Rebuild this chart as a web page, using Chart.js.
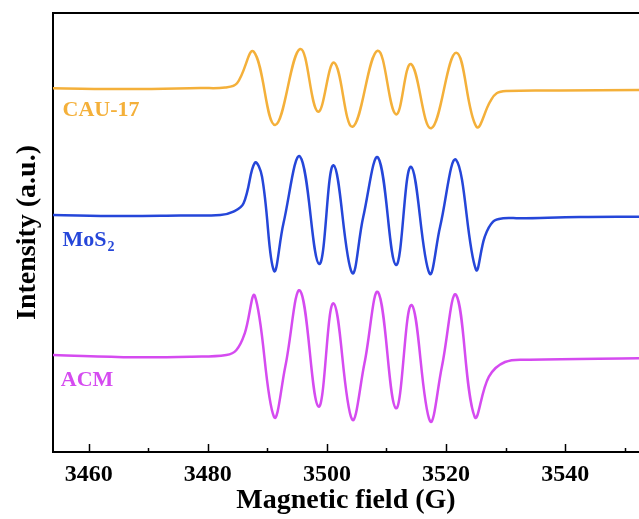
<!DOCTYPE html>
<html>
<head>
<meta charset="utf-8">
<script src="https://cdn.jsdelivr.net/npm/chart.js@4.4.1/dist/chart.umd.min.js"></script>
<style>
  html, body { margin: 0; padding: 0; background: #fff; }
  #wrap { width: 639px; height: 519px; }
</style>
</head>
<body>
<div id="wrap"><canvas id="myChart" width="639" height="519"></canvas></div>
<script>
// field values (G) and intensity (a.u., offset per sample)
const cauField = [3454.0, 3467.0, 3478.7, 3482.9, 3484.9, 3487.7, 3491.3, 3495.5, 3498.5, 3501.2, 3504.3, 3508.5, 3511.6, 3514.1, 3517.5, 3521.7, 3525.1, 3527.4, 3528.5, 3530.2, 3539.1, 3552.4];
const cauIntensity = [363.7, 363, 364, 364.5, 368.7, 400.3, 327, 403, 340.3, 389.3, 325.3, 401.3, 337.7, 388, 323.7, 399.3, 325.3, 350.3, 358.7, 361, 361.5, 362];

const mosField = [3454.0, 3465.3, 3475.4, 3482.1, 3484.3, 3486.0, 3487.9, 3489.1, 3491.1, 3492.7, 3495.5, 3498.7, 3501.1, 3504.2, 3506.1, 3508.6, 3511.6, 3514.1, 3517.2, 3519.0, 3521.7, 3525.0, 3526.5, 3527.9, 3529.6, 3532.4, 3542.5, 3552.4];
const mosIntensity = [237, 236, 236.5, 237, 240.3, 248.7, 289.3, 275.3, 181.3, 228.7, 295.3, 188, 286.7, 179.3, 235.3, 294.3, 187, 285.3, 178.7, 225.3, 292, 182.7, 215.3, 230.3, 233.7, 233.7, 235, 235.3];

const acmField = [3454.0, 3467.7, 3477.3, 3483.1, 3484.8, 3486.2, 3487.9, 3491.1, 3493.0, 3495.5, 3498.6, 3501.1, 3504.2, 3506.3, 3508.6, 3511.6, 3514.2, 3517.3, 3519.3, 3521.7, 3524.8, 3527.2, 3529.9, 3534.0, 3552.4];
const acmIntensity = [97, 94.7, 95.3, 97, 102, 118.7, 156, 35.3, 85.3, 161.3, 45.3, 148.7, 32.7, 88.7, 159.7, 43.7, 147, 31, 85.3, 157, 35.3, 75.3, 90, 92.3, 93.7];

const majorTicks = [3460, 3480, 3500, 3520, 3540];
const minorTicks = [3470, 3490, 3510, 3530, 3550];

// sample name labels: [text, subscript, field, intensity, colour]
const sampleLabels = [
  ["CAU-17", "", 3455.6, 342, "#F4B03A"],
  ["MoS", "2", 3455.6, 212, "#2546D9"],
  ["ACM", "", 3455.3, 72, "#D54BF0"]
];

const serif = "'Liberation Serif', 'Times New Roman', serif";

function toPoints(xs, ys) {
  return xs.map((v, i) => ({ x: v, y: ys[i] }));
}

const framePlugin = {
  id: "frame",
  afterDraw(chart) {
    const { ctx, chartArea: a, scales: { x, y } } = chart;
    ctx.save();
    ctx.strokeStyle = "#000";
    ctx.lineWidth = 2;
    ctx.beginPath();
    ctx.moveTo(a.left - 1, a.top);
    ctx.lineTo(a.right, a.top);
    ctx.stroke();
    // inward ticks
    ctx.lineWidth = 1.5;
    majorTicks.forEach(v => {
      const px = Math.round(x.getPixelForValue(v)) + 0.5;
      ctx.beginPath(); ctx.moveTo(px, a.bottom); ctx.lineTo(px, a.bottom - 8); ctx.stroke();
    });
    minorTicks.forEach(v => {
      const px = Math.round(x.getPixelForValue(v)) + 0.5;
      ctx.beginPath(); ctx.moveTo(px, a.bottom); ctx.lineTo(px, a.bottom - 4); ctx.stroke();
    });
    // sample names
    ctx.textBaseline = "middle";
    ctx.textAlign = "left";
    sampleLabels.forEach(([t, sub, fx, fy, col]) => {
      const px = x.getPixelForValue(fx);
      const py = y.getPixelForValue(fy);
      ctx.fillStyle = col;
      ctx.font = "bold 22px " + serif;
      ctx.fillText(t, px, py);
      if (sub) {
        const w = ctx.measureText(t).width;
        ctx.font = "bold 14px " + serif;
        ctx.fillText(sub, px + w + 1, py + 7);
      }
    });
    ctx.restore();
  }
};

const ctx = document.getElementById("myChart");

new Chart(ctx, {
  type: "line",
  data: {
    datasets: [
      {
        label: "CAU-17",
        data: toPoints(cauField, cauIntensity),
        borderColor: "#F4B03A",
        borderWidth: 2.5,
        pointRadius: 0,
        tension: 0.4
      },
      {
        label: "MoS2",
        data: toPoints(mosField, mosIntensity),
        borderColor: "#2546D9",
        borderWidth: 2.5,
        pointRadius: 0,
        tension: 0.4
      },
      {
        label: "ACM",
        data: toPoints(acmField, acmIntensity),
        borderColor: "#D54BF0",
        borderWidth: 2.5,
        pointRadius: 0,
        tension: 0.4
      }
    ]
  },
  options: {
    responsive: false,
    animation: false,
    layout: { padding: { top: 13, left: 0, right: 0, bottom: 0 } },
    plugins: {
      legend: { display: false },
      tooltip: { enabled: false }
    },
    scales: {
      x: {
        type: "linear",
        min: 3454,
        max: 3552.4,
        afterFit: s => { s.height = 67; },
        afterBuildTicks: s => { s.ticks = majorTicks.map(v => ({ value: v })); },
        grid: { display: false, drawTicks: false },
        border: { display: true, color: "#000", width: 2 },
        ticks: {
          color: "#000",
          padding: 8,
          maxRotation: 0,
          font: { family: serif, size: 24, weight: "bold" },
          callback: v => String(v)
        },
        title: {
          display: true,
          text: "Magnetic field (G)",
          color: "#000",
          padding: { top: 0, bottom: 1 },
          font: { family: serif, size: 28, weight: "bold" }
        }
      },
      y: {
        min: 0,
        max: 439,
        afterFit: s => { s.width = 53; },
        grid: { display: false, drawTicks: false },
        border: { display: true, color: "#000", width: 2 },
        ticks: { display: false },
        title: {
          display: true,
          text: "Intensity (a.u.)",
          color: "#000",
          padding: { top: 11, bottom: 0 },
          font: { family: serif, size: 28, weight: "bold" }
        }
      }
    }
  },
  plugins: [framePlugin]
});
</script>
</body>
</html>
